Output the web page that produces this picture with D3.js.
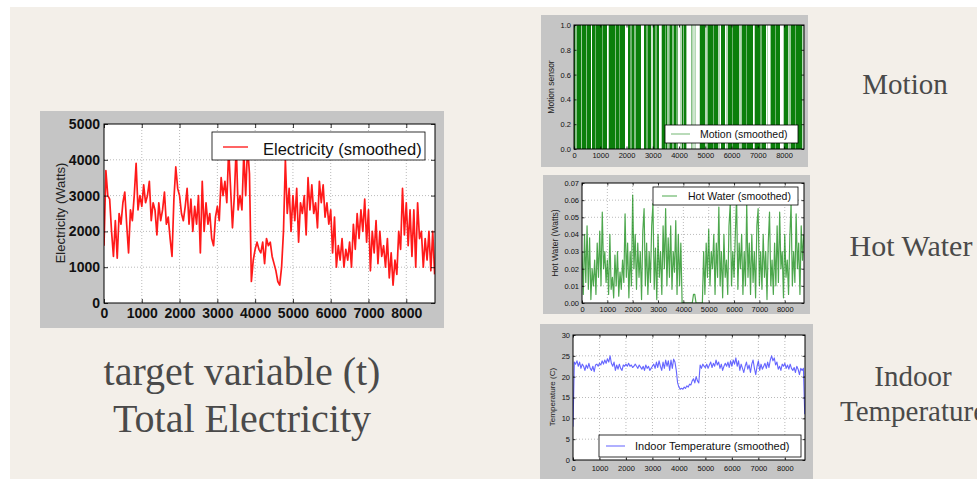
<!DOCTYPE html>
<html>
<head>
<meta charset="utf-8">
<script src="https://cdn.jsdelivr.net/npm/d3@7/dist/d3.min.js"></script>
<style>
  body { margin: 0; background: #fff; }
  svg { display: block; font-family: "Liberation Sans", Arial, sans-serif; }
</style>
</head>
<body>
<svg id="slide" width="977" height="479"></svg>
<script>
// one reading every 50 hours across the year (hour 0 .. 8750)
var STEP = 50;
var X_MAX = 8760;
var xTicks = [0, 1000, 2000, 3000, 4000, 5000, 6000, 7000, 8000];

// Electricity (Watts), smoothed
var electricity = [
  1600,3700,3000,2900,2000,1300,2300,1250,2500,2200, 2800,3100,2200,1400,2600,2300,3000,3900,2600,3000,
  2700,3300,2800,3000,3400,2300,2800,2600,1900,2800, 2300,2600,3100,2200,2400,1800,1300,2900,3800,3200,
  3000,2500,2300,2700,3200,2200,2900,2000,2700,2200, 3000,1400,3400,2000,2800,2200,2500,1800,1600,2400,
  2700,2300,3500,3000,3400,2800,4300,3200,2100,3000, 4400,2600,3000,2600,4200,3000,4400,3600, 600,1200,
  1500,1700,1500,1400,1700,1100,1800,1600,1700,1300, 1100, 900, 600, 500,1000,2000,4000,2500,3200,2000,
  3000,2300,3200,1700,2800,2500,3000,1900,3500,2600, 3300,2500,2800,2100,3400,2800,3300,2400,2800,2200,
  2600,1400,2400,1000,1600,1200,1800,1000,1500,1200, 1700,1000,2200,1500,2500,1800,2600,2000,2900,1700,
  2600, 900,2000,1400,2300,1100,2000,1300,1600,1000, 1800, 700,1400, 500,1200, 800,2000,1500,3200,1900,
  2800,1600,2600,1300,2600,1000,2800,1800,2000,1000, 1800,1200,2000, 900,2000, 800
];

// Motion sensor, smoothed: share of each 50 h slot with motion
var motion = [
  1,0.5,1,1,1,0.4,1,1,1,0.5, 1,1,1,0,1,1,0.6,1,1,1,
  1,0.6,1,1,1,0,0.3,1,1,1, 1,0.5,1,1,0.6,1,1,1,1,0,
  0,1,1,0.6,1,1,0.5,1,1,1, 1,0,0,1,1,0.6,1,1,1,0.2,
  1,1,0.6,1,1,0,0.3,1,1,0.6, 1,0.4,0.6,1,1,0.5,1,1,0.6,0,
  0,0.3,1,0.5,1,0.4,0,0,0,0.5, 0.3,0.2,0.3,0,0,0.2,1,1,1,1,
  0.3,0.5,1,1,1,1,0.6,1,1,1, 0.3,0,1,1,1,0,0.3,1,1,1,
  0.6,1,1,1,1,1,0.3,0.4,1,1, 1,0.6,1,1,1,1,0,0.3,1,1,
  1,1,0.6,1,1,1,0,0.3,0,0.4, 1,1,1,0.6,1,1,1,0,0,0.3,
  1,1,1,0.3,0.4,1,1,1,0.6,1, 1,1,1,1,0.3,1
];

// Hot Water (Watts), smoothed
var hotWater = [
  .030,.005,.040,.012,.045,.008,.038,.002,.020,.010, .025,.005,.035,.015,.042,.010,.053,.020,.030,.012,
  .025,.005,.040,.008,.015,.003,.028,.010,.030,.004, .018,.008,.025,.012,.052,.015,.035,.003,.030,.010,
  .063,.020,.040,.008,.035,.015,.030,.002,.042,.055, .010,.035,.005,.030,.012,.045,.058,.008,.032,.002,
  .040,.015,.030,.005,.045,.020,.055,.010,.038,.015, .045,.008,.030,.018,.048,.005,.040,.010,.035,.000,
  .000,.000,.000,.000,.000,.000,.000,.000,.005,.005, .000,.000,.000,.000,.000,.000,.030,.005,.035,.015,
  .043,.010,.030,.020,.040,.005,.035,.015,.056,.010, .030,.003,.040,.015,.025,.005,.045,.058,.010,.030,
  .015,.040,.062,.008,.035,.020,.040,.005,.030,.010, .058,.015,.035,.005,.040,.012,.030,.003,.045,.055,
  .010,.030,.008,.040,.015,.030,.002,.035,.053,.010, .025,.005,.035,.010,.045,.012,.053,.020,.030,.003,
  .040,.015,.025,.005,.038,.058,.010,.030,.012,.052, .020,.035,.005,.045,.025,.040
];

// Indoor Temperature (C), smoothed
var indoorTemp = [
  8,23.5,23,23.8,22.5,23.5,22,23,22.5,21.5, 22.8,22,23.2,22,21.5,22.5,21.2,22.8,23,22.5,
  23.2,22.8,23.8,23,24,23.2,24.3,23.5,25,23.2, 22.5,23.5,21.5,22.8,21.8,23,22,21.5,22.8,22.5,
  23,22.5,23.2,22.5,22.8,22.2,22.5,23,22.5,22, 22.8,22.3,21.8,22.5,21.5,22.8,22,22.5,21.5,22,
  22.5,23,22,23.5,22.2,23.8,22.5,21.5,23.5,22, 24,22.5,23.8,21.5,24,22,24.2,23.5,21.5,18.5,
  17.5,17,17.2,17,17.5,17.2,17.8,17.5,18.2,18, 19,19.5,18.5,20,19,18.5,22.8,22,23,22.5,
  22.2,23,22,22.8,23.5,22.2,23.2,22.5,24,22.8, 23.5,22,23,21.5,22.5,23.2,22.5,23.5,22.2,23.8,
  22.5,24,23,24.5,22.5,23.8,21.5,23,22,21, 22.5,23.5,21.8,22.8,21,23,24,22,20.5,22.5,
  23.8,21.5,23,21.8,22.5,23.2,22,23.5,22.2,24, 25,23.8,24.5,22.8,23.5,21.8,22.5,21.5,23,22.5,
  23.2,22,22.8,21.8,23,22,21.5,22.2,21,22.5, 21.8,20.5,22,21.5,22,11
];

var elecTicks = [0, 1000, 2000, 3000, 4000, 5000];
var motionTicks = [0, 0.2, 0.4, 0.6, 0.8, 1.0];
var waterTicks = [0, 0.01, 0.02, 0.03, 0.04, 0.05, 0.06, 0.07];
var tempTicks = [0, 5, 10, 15, 20, 25, 30];

var svg = d3.select("#slide");

// slide background
svg.append("rect").attr("width", 977).attr("height", 479).attr("fill", "#fff");
svg.append("rect").attr("x", 10).attr("y", 7).attr("width", 967).attr("height", 472).attr("fill", "#f3efe9");

function panel(c) {
  var g = svg.append("g");
  g.append("rect")
    .attr("x", c.frame[0]).attr("y", c.frame[1])
    .attr("width", c.frame[2]).attr("height", c.frame[3])
    .attr("fill", "#c5c5c5");

  var p = c.plot;
  var x = d3.scaleLinear().domain([0, X_MAX]).range([p[0], p[0] + p[2]]);
  var y = d3.scaleLinear().domain(c.yDomain).range([p[1] + p[3], p[1]]);

  g.append("rect").attr("x", p[0]).attr("y", p[1]).attr("width", p[2]).attr("height", p[3]).attr("fill", "#fff");

  // dotted grid
  var grid = g.append("g").attr("stroke", "#a8a8a8").attr("stroke-dasharray", "1,2").attr("stroke-width", 0.8);
  grid.selectAll(".gx").data(xTicks.slice(1)).enter().append("line")
    .attr("x1", d => x(d)).attr("x2", d => x(d)).attr("y1", p[1]).attr("y2", p[1] + p[3]);
  grid.selectAll(".gy").data(c.yTicks.slice(1, -1)).enter().append("line")
    .attr("x1", p[0]).attr("x2", p[0] + p[2]).attr("y1", d => y(d)).attr("y2", d => y(d));

  var clipId = "clip" + c.name;
  g.append("clipPath").attr("id", clipId).append("rect")
    .attr("x", p[0]).attr("y", p[1]).attr("width", p[2]).attr("height", p[3]);
  var marks = g.append("g").attr("clip-path", "url(#" + clipId + ")");

  if (c.kind === "bars") {
    // each slot is a full-height stripe, shaded by how much motion it had
    var shade = d3.interpolateRgb("#ffffff", c.color);
    marks.selectAll("rect").data(c.values).enter().append("rect")
      .attr("x", (d, i) => x(i * STEP))
      .attr("width", x(STEP) - x(0) + 0.5)
      .attr("y", y(1))
      .attr("height", y(0) - y(1))
      .attr("fill", d => shade(d))
      .attr("shape-rendering", "crispEdges");
  } else {
    var line = d3.line().x((d, i) => x(i * STEP)).y(d => y(d));
    marks.append("path").datum(c.values)
      .attr("fill", "none").attr("stroke", c.color)
      .attr("stroke-width", c.width).attr("stroke-opacity", c.opacity)
      .attr("stroke-linejoin", "round")
      .attr("d", line);
  }

  // axes, ticks pointing inward
  var xa = g.append("g").attr("transform", "translate(0," + (p[1] + p[3]) + ")")
    .call(d3.axisBottom(x).tickValues(xTicks).tickSize(-c.tick).tickPadding(c.xPad).tickFormat(d3.format("d")));
  var ya = g.append("g").attr("transform", "translate(" + p[0] + ",0)")
    .call(d3.axisLeft(y).tickValues(c.yTicks).tickSize(-c.tick).tickPadding(c.yPad).tickFormat(c.fmt));
  g.append("g").attr("transform", "translate(0," + p[1] + ")")
    .call(d3.axisTop(x).tickValues(xTicks).tickSize(-c.tick).tickFormat(""));
  g.append("g").attr("transform", "translate(" + (p[0] + p[2]) + ",0)")
    .call(d3.axisRight(y).tickValues(c.yTicks).tickSize(-c.tick).tickFormat(""));
  g.selectAll(".domain").remove();
  g.selectAll(".tick line").attr("stroke", "#000").attr("stroke-width", 0.8);
  [xa, ya].forEach(function (a) {
    a.selectAll("text").attr("font-size", c.tickFont).attr("font-weight", c.tickWeight)
      .attr("font-family", "Liberation Sans, Arial, sans-serif").attr("fill", "#111");
  });

  g.append("rect").attr("x", p[0]).attr("y", p[1]).attr("width", p[2]).attr("height", p[3])
    .attr("fill", "none").attr("stroke", "#000").attr("stroke-width", 1);

  g.append("text")
    .attr("transform", "translate(" + c.yLabelPos[0] + "," + c.yLabelPos[1] + ") rotate(-90)")
    .attr("text-anchor", "middle").attr("dy", "0.35em")
    .attr("font-size", c.yLabelFont).attr("fill", "#222")
    .text(c.yLabel);

  // legend
  var L = c.legend;
  g.append("rect").attr("x", L.box[0]).attr("y", L.box[1]).attr("width", L.box[2]).attr("height", L.box[3])
    .attr("fill", "#fff").attr("stroke", "#000").attr("stroke-width", 0.8);
  g.append("line").attr("x1", L.line[0]).attr("x2", L.line[1]).attr("y1", L.line[2]).attr("y2", L.line[2])
    .attr("stroke", L.color).attr("stroke-width", L.width);
  g.append("text").attr("x", L.text[0]).attr("y", L.text[1])
    .attr("font-size", L.font).attr("fill", "#111").text(L.label);
}

panel({
  name: "elec", frame: [40, 111, 404, 217], plot: [104, 124, 331, 179],
  yDomain: [0, 5000], yTicks: elecTicks, fmt: d3.format("d"),
  kind: "line", values: electricity, color: "#ff1a1a", width: 1.7, opacity: 1,
  tick: 4, xPad: 5, yPad: 4, tickFont: 14, tickWeight: "bold",
  yLabel: "Electricity (Watts)", yLabelPos: [60, 213], yLabelFont: 13,
  legend: { box: [212, 132, 213, 28], line: [223, 248, 147], text: [263, 155], font: 16.5,
            color: "#ff3030", width: 1.5, label: "Electricity (smoothed)" }
});

panel({
  name: "motion", frame: [541, 15, 267, 152], plot: [574, 25, 230, 124],
  yDomain: [0, 1], yTicks: motionTicks, fmt: d3.format(".1f"),
  kind: "bars", values: motion, color: "#0b7f0b",
  tick: 2.5, xPad: 4, yPad: 3, tickFont: 7.5, tickWeight: "normal",
  yLabel: "Motion sensor", yLabelPos: [551, 87], yLabelFont: 8.5,
  legend: { box: [665, 125, 133, 18], line: [671, 690, 134], text: [700, 138], font: 10.5,
            color: "#8ac48a", width: 1.2, label: "Motion (smoothed)" }
});

panel({
  name: "water", frame: [543, 175, 267, 139], plot: [582, 183, 222, 120],
  yDomain: [0, 0.07], yTicks: waterTicks, fmt: d3.format(".2f"),
  kind: "line", values: hotWater, color: "#118a11", width: 1.2, opacity: 0.75,
  tick: 2.5, xPad: 3.5, yPad: 3, tickFont: 7.5, tickWeight: "normal",
  yLabel: "Hot Water (Watts)", yLabelPos: [555, 243], yLabelFont: 8.5,
  legend: { box: [653, 187, 145, 18], line: [662, 677, 196], text: [688, 200], font: 10.5,
            color: "#6cb86c", width: 1.2, label: "Hot Water (smoothed)" }
});

panel({
  name: "temp", frame: [540, 324, 273, 160], plot: [573, 335, 232, 125],
  yDomain: [0, 30], yTicks: tempTicks, fmt: d3.format("d"),
  kind: "line", values: indoorTemp, color: "#4a4aff", width: 1.1, opacity: 0.85,
  tick: 2.5, xPad: 5.5, yPad: 3, tickFont: 7.5, tickWeight: "normal",
  yLabel: "Temperature (C)", yLabelPos: [552, 397], yLabelFont: 8,
  legend: { box: [599, 435, 202, 22], line: [606, 625, 446], text: [635, 450], font: 11,
            color: "#7c7cff", width: 1.2, label: "Indoor Temperature (smoothed)" }
});

// slide captions
var serif = "Liberation Serif, 'DejaVu Serif', serif";
function caption(txt, x, y, size) {
  svg.append("text").attr("x", x).attr("y", y).attr("text-anchor", "middle")
    .attr("font-family", serif).attr("font-size", size).attr("fill", "#4a4a4a").text(txt);
}
caption("target variable (t)", 242, 385, 40);
caption("Total Electricity", 242, 432, 40);
caption("Motion", 905, 94, 29);
caption("Hot Water", 911, 256, 30);
caption("Indoor", 913, 386, 29);
// the slide itself runs this word off its right edge
caption("Temperature", 913, 421, 29);
</script>
</body>
</html>
